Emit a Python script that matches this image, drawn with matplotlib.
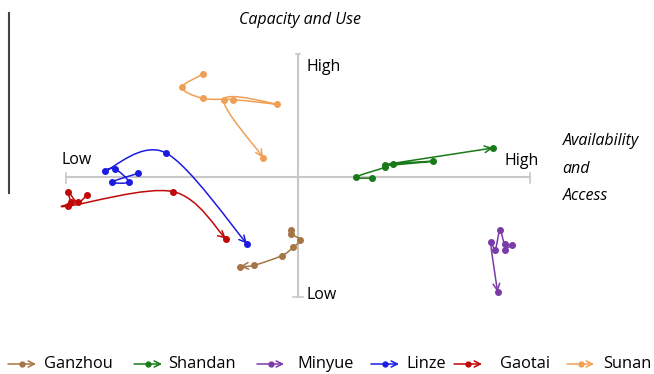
import numpy as np
import matplotlib
matplotlib.use('Agg')
import matplotlib.pyplot as plt
from matplotlib.path import Path
from matplotlib.patches import FancyArrowPatch

plt.rcParams['font.family'] = ['Open Sans', 'DejaVu Sans']

# x: Availability and Access, y: Capacity and Use (both scaled -1 .. 1)
names = ['Ganzhou', 'Shandan', 'Minyue', 'Linze', 'Gaotai', 'Sunan']
colors = ['#a57545', '#187a18', '#7a3aa8', '#1c1ce0', '#c00808', '#f0a055']

ganzhou_x = [-0.03, -0.03, 0.01, -0.02, -0.07, -0.19, -0.25]
ganzhou_y = [-0.44, -0.47, -0.52, -0.58, -0.65, -0.73, -0.74]
shandan_x = [0.32, 0.25, 0.375, 0.41, 0.58, 0.375, 0.84]
shandan_y = [-0.01, 0.00, 0.08, 0.11, 0.13, 0.10, 0.24]
minyue_x = [0.89, 0.92, 0.89, 0.87, 0.85, 0.83, 0.86]
minyue_y = [-0.60, -0.56, -0.55, -0.44, -0.60, -0.54, -0.95]
linze_x = [-0.69, -0.80, -0.73, -0.79, -0.83, -0.57, -0.22]
linze_y = [0.03, -0.04, -0.04, 0.07, 0.05, 0.20, -0.55]
gaotai_x = [-0.91, -0.95, -0.99, -0.98, -0.99, -0.54, -0.31]
gaotai_y = [-0.15, -0.21, -0.12, -0.21, -0.24, -0.12, -0.51]
sunan_x = [-0.41, -0.50, -0.41, -0.28, -0.09, -0.32, -0.15]
sunan_y = [0.85, 0.74, 0.65, 0.64, 0.60, 0.64, 0.16]

series_x = [ganzhou_x, shandan_x, minyue_x, linze_x, gaotai_x, sunan_x]
series_y = [ganzhou_y, shandan_y, minyue_y, linze_y, gaotai_y, sunan_y]


def smooth_path(xs, ys):
    # excel-like smoothed line: cubic bezier through all points
    p = np.column_stack([xs, ys])
    n = len(p)
    verts = [p[0]]
    codes = [Path.MOVETO]
    for i in range(n - 1):
        p0 = p[i - 1] if i > 0 else p[i]
        p3 = p[i + 2] if i + 2 < n else p[i + 1]
        c1 = p[i] + (p[i + 1] - p0) / 6.0
        c2 = p[i + 1] - (p3 - p[i]) / 6.0
        verts += [c1, c2, p[i + 1]]
        codes += [Path.CURVE4] * 3
    return Path(np.array(verts), codes)


fig = plt.figure(figsize=(6.54, 3.74), dpi=100)
ax = fig.add_axes([0, 0, 1, 1])
ax.set_xlim(-1.284, 1.534)
ax.set_ylim(-1.628, 1.463)
ax.axis('off')

# quadrant axes
gray = '#c8c8c8'
ax.plot([-1, 1], [0, 0], color=gray, lw=1.5, zorder=1)
ax.plot([0, 0], [-0.99, 1.02], color=gray, lw=1.5, zorder=1)
for xe in [-1, 1]:
    ax.plot([xe, xe], [-0.05, 0.035], color=gray, lw=1.2, zorder=1)
ax.plot([-0.02, 0.02], [-0.99, -0.99], color=gray, lw=1.2, zorder=1)
ax.plot([-0.01, 0.01], [1.02, 1.02], color=gray, lw=1.2, zorder=1)

ax.plot([-1.246, -1.246], [1.355, -0.13], color='#444444', lw=1.5)

fs = 11.5
ax.text(0.035, 0.91, 'High', fontsize=fs, va='center', ha='left')
ax.text(0.035, -0.975, 'Low', fontsize=fs, va='center', ha='left')
ax.text(-1.02, 0.14, 'Low', fontsize=fs, va='center', ha='left')
ax.text(0.89, 0.13, 'High', fontsize=fs, va='center', ha='left')
ax.text(0.01, 1.30, 'Capacity and Use', fontsize=fs, style='italic',
        va='center', ha='center')
ax.text(1.14, 0.30, 'Availability', fontsize=fs, style='italic', va='center', ha='left')
ax.text(1.14, 0.07, 'and', fontsize=fs, style='italic', va='center', ha='left')
ax.text(1.14, -0.16, 'Access', fontsize=fs, style='italic', va='center', ha='left')

for xs, ys, c in zip(series_x, series_y, colors):
    arr = FancyArrowPatch(path=smooth_path(xs, ys), arrowstyle='->',
                          mutation_scale=12, color=c, lw=1.1, zorder=3)
    ax.add_patch(arr)
    ax.plot(xs, ys, 'o', color=c, ms=4, zorder=4)

# legend along the bottom
leg_y = 1 - 364 / 374
icon_px = [(8, 36), (134, 162), (257, 284), (371, 399), (454, 482), (567, 594)]
text_px = [44, 168, 297, 406, 500, 603]
for name, c, (a, b), t in zip(names, colors, icon_px, text_px):
    ax.annotate('', xy=(b / 654, leg_y), xytext=(a / 654, leg_y),
                xycoords='figure fraction',
                arrowprops=dict(arrowstyle='->', color=c, lw=1.1,
                                shrinkA=0, shrinkB=0, mutation_scale=11))
    ax.plot([(a + b) / 2 / 654], [leg_y], 'o', color=c, ms=3.5,
            transform=fig.transFigure, clip_on=False)
    ax.text(t / 654, leg_y, name, fontsize=11.8, va='center', ha='left',
            transform=fig.transFigure)

plt.savefig('out.png', dpi=100)
